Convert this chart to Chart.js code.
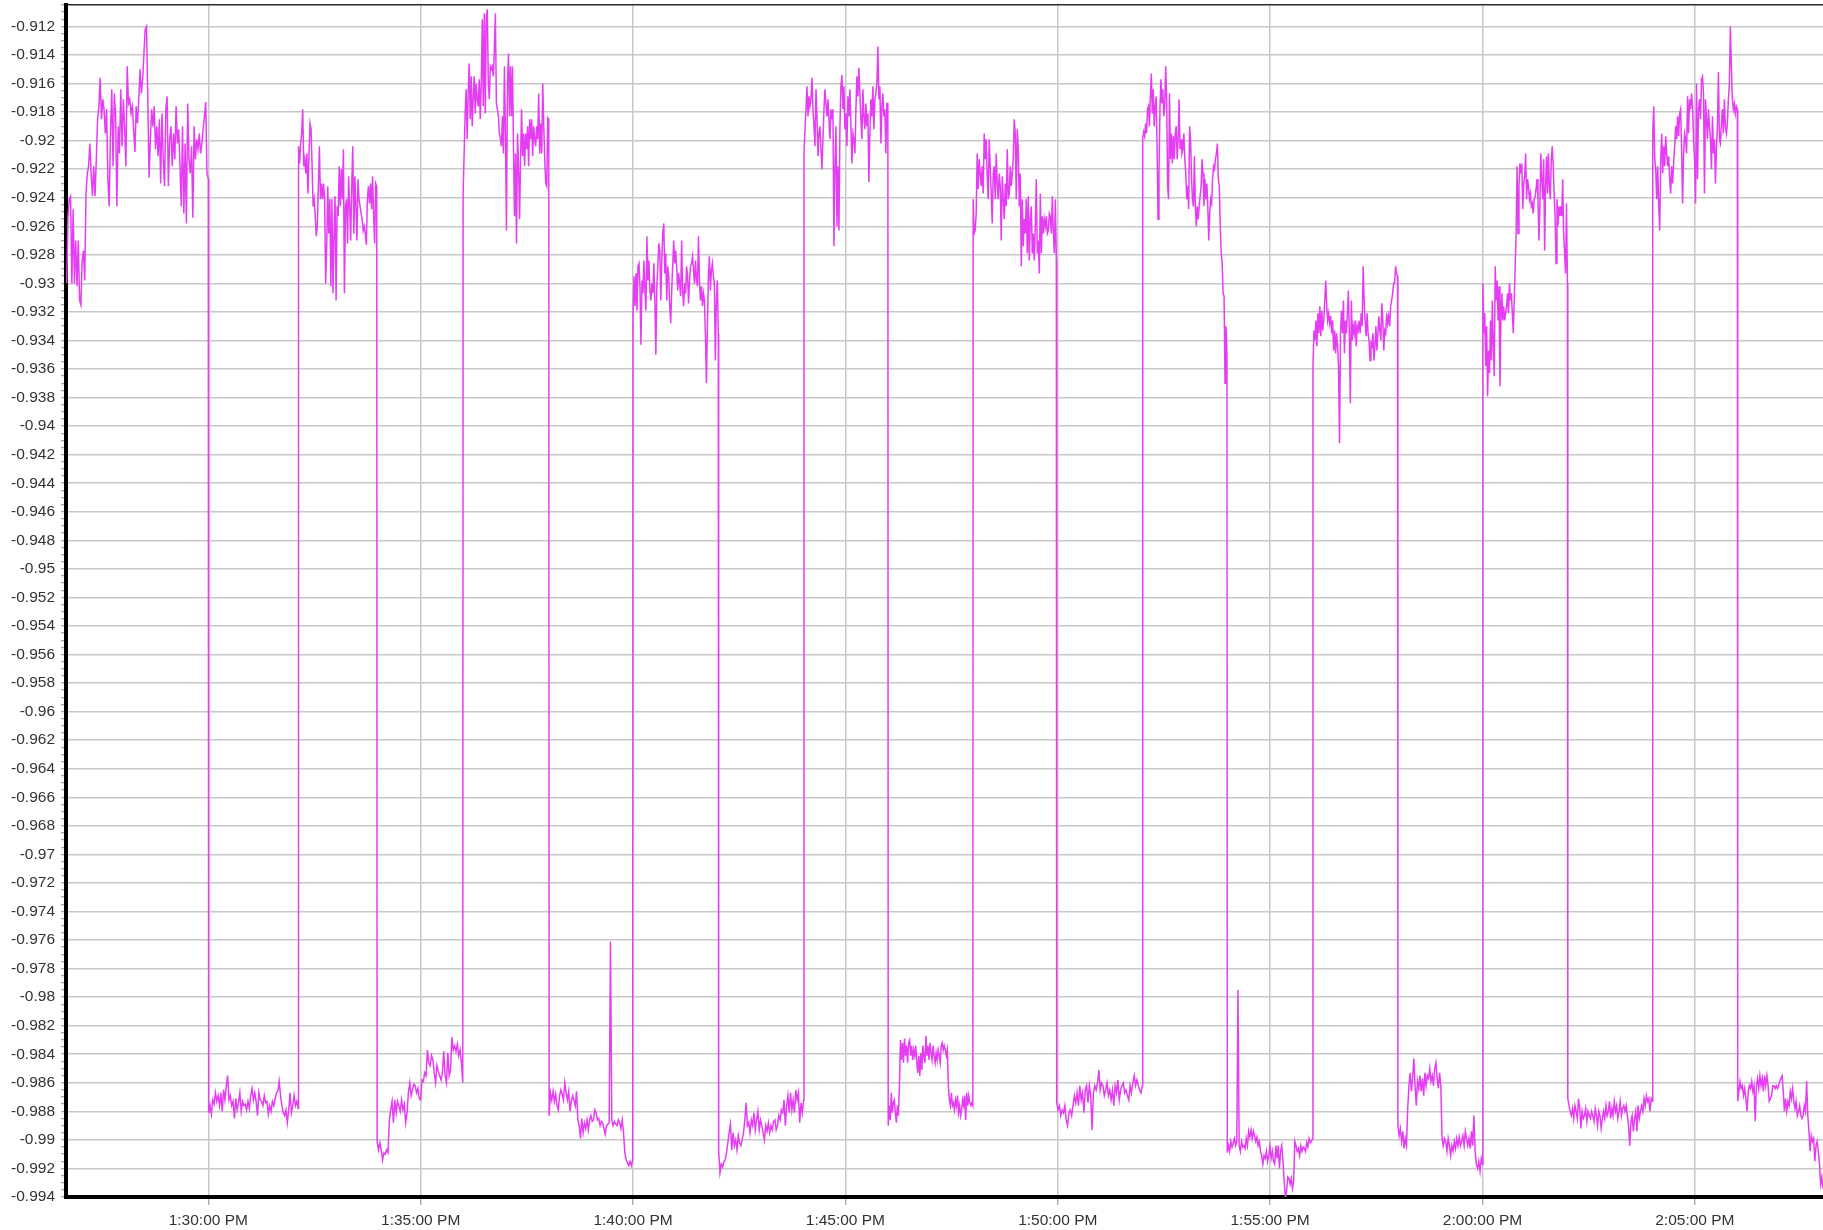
<!DOCTYPE html>
<html>
<head>
<meta charset="utf-8">
<script src="https://cdn.jsdelivr.net/npm/chart.js@4.4.1/dist/chart.umd.min.js"></script>
<style>
  html, body { margin: 0; padding: 0; background: #ffffff; }
  #wrap { width: 1823px; height: 1230px; position: relative; }
  canvas { display: block; }
</style>
</head>
<body>
<div id="wrap"><canvas id="c" width="1823" height="1230"></canvas></div>
<script>
// ---- time axis (seconds after 1:30:00 PM) ----
const xMin = -201;
const xMax = 2281;
const xTickSeconds = [0, 300, 600, 900, 1200, 1500, 1800, 2100];
const xTickLabels = ['1:30:00 PM', '1:35:00 PM', '1:40:00 PM', '1:45:00 PM', '1:50:00 PM', '1:55:00 PM', '2:00:00 PM', '2:05:00 PM'];

// ---- value axis ----
const yMin = -0.994;
const yMax = -0.9105;
const yTickValues = [-0.912,-0.914,-0.916,-0.918,-0.92,-0.922,-0.924,-0.926,-0.928,-0.93,-0.932,-0.934,-0.936,-0.938,-0.94,-0.942,-0.944,-0.946,-0.948,-0.95,-0.952,-0.954,-0.956,-0.958,-0.96,-0.962,-0.964,-0.966,-0.968,-0.97,-0.972,-0.974,-0.976,-0.978,-0.98,-0.982,-0.984,-0.986,-0.988,-0.99,-0.992,-0.994];
const yTickLabels = ['-0.912','-0.914','-0.916','-0.918','-0.92','-0.922','-0.924','-0.926','-0.928','-0.93','-0.932','-0.934','-0.936','-0.938','-0.94','-0.942','-0.944','-0.946','-0.948','-0.95','-0.952','-0.954','-0.956','-0.958','-0.96','-0.962','-0.964','-0.966','-0.968','-0.97','-0.972','-0.974','-0.976','-0.978','-0.98','-0.982','-0.984','-0.986','-0.988','-0.99','-0.992','-0.994'];

// ---- segments: start / end time (s) and readings, evenly sampled within each segment ----
const segStart = [-200, 0.5, 127.5, 238.5, 360, 481.5, 600, 721, 841.5, 960.5, 1080.5, 1198.5, 1320, 1439.5, 1560.5, 1680.5, 1800.5, 1920.5, 2040.5, 2160.5];
const segEnd   = [0, 127, 238, 359.5, 481, 599.5, 720.5, 841, 960, 1080, 1198, 1319.5, 1439, 1560, 1680, 1800, 1920, 2040, 2160, 2281];

const seg01 = [-0.9300,-0.9253,-0.9241,-0.9239,-0.9300,-0.9248,-0.9300,-0.9270,-0.9302,-0.9270,-0.9312,-0.9315,-0.9284,-0.9277,-0.9298,-0.9237,-0.9223,-0.9218,-0.9202,-0.9223,-0.9239,-0.9218,-0.9239,-0.9213,-0.9185,-0.9176,-0.9156,-0.9185,-0.9171,-0.9178,-0.9195,-0.9178,-0.9227,-0.9246,-0.9195,-0.9164,-0.9218,-0.9167,-0.9183,-0.9246,-0.9190,-0.9209,-0.9164,-0.9204,-0.9171,-0.9190,-0.9218,-0.9148,-0.9174,-0.9171,-0.9181,-0.9176,-0.9192,-0.9208,-0.9176,-0.9188,-0.9171,-0.9150,-0.9167,-0.9157,-0.9139,-0.9122,-0.9120,-0.9171,-0.9226,-0.9199,-0.9178,-0.9190,-0.9176,-0.9206,-0.9190,-0.9211,-0.9185,-0.9230,-0.9181,-0.9213,-0.9232,-0.9178,-0.9169,-0.9232,-0.9199,-0.9190,-0.9218,-0.9195,-0.9213,-0.9176,-0.9202,-0.9192,-0.9218,-0.9246,-0.9190,-0.9251,-0.9202,-0.9258,-0.9174,-0.9213,-0.9223,-0.9204,-0.9254,-0.9190,-0.9213,-0.9199,-0.9206,-0.9195,-0.9209,-0.9202,-0.9192,-0.9183,-0.9173,-0.9223,-0.9227];
const seg02 = [-0.9881,-0.9876,-0.9882,-0.9872,-0.9875,-0.9867,-0.9873,-0.9869,-0.9876,-0.9867,-0.9880,-0.9865,-0.9872,-0.9862,-0.9855,-0.9872,-0.9869,-0.9876,-0.9873,-0.9885,-0.9871,-0.9879,-0.9874,-0.9867,-0.9880,-0.9873,-0.9876,-0.9875,-0.9879,-0.9873,-0.9878,-0.9869,-0.9864,-0.9872,-0.9867,-0.9873,-0.9883,-0.9867,-0.9872,-0.9873,-0.9876,-0.9869,-0.9874,-0.9873,-0.9882,-0.9876,-0.9880,-0.9873,-0.9876,-0.9871,-0.9867,-0.9866,-0.9859,-0.9869,-0.9876,-0.9881,-0.9883,-0.9879,-0.9888,-0.9879,-0.9867,-0.9881,-0.9876,-0.9869,-0.9876,-0.9873,-0.9878];
const seg03 = [-0.9204,-0.9216,-0.9202,-0.9195,-0.9178,-0.9218,-0.9213,-0.9223,-0.9209,-0.9237,-0.9211,-0.9188,-0.9192,-0.9218,-0.9246,-0.9241,-0.9253,-0.9267,-0.9260,-0.9232,-0.9204,-0.9241,-0.9230,-0.9241,-0.9230,-0.9241,-0.9300,-0.9274,-0.9232,-0.9265,-0.9241,-0.9302,-0.9241,-0.9307,-0.9265,-0.9239,-0.9312,-0.9246,-0.9253,-0.9218,-0.9246,-0.9220,-0.9241,-0.9206,-0.9307,-0.9246,-0.9241,-0.9272,-0.9225,-0.9246,-0.9270,-0.9232,-0.9204,-0.9265,-0.9225,-0.9246,-0.9270,-0.9227,-0.9241,-0.9246,-0.9251,-0.9255,-0.9263,-0.9260,-0.9265,-0.9273,-0.9241,-0.9232,-0.9244,-0.9230,-0.9248,-0.9225,-0.9253,-0.9272,-0.9230,-0.9232];
const seg04 = [-0.9901,-0.9907,-0.9902,-0.9907,-0.9914,-0.9909,-0.9910,-0.9907,-0.9909,-0.9886,-0.9879,-0.9873,-0.9888,-0.9872,-0.9881,-0.9873,-0.9876,-0.9880,-0.9872,-0.9879,-0.9875,-0.9888,-0.9881,-0.9867,-0.9860,-0.9869,-0.9865,-0.9861,-0.9862,-0.9867,-0.9864,-0.9871,-0.9872,-0.9858,-0.9859,-0.9853,-0.9855,-0.9837,-0.9846,-0.9848,-0.9841,-0.9844,-0.9853,-0.9860,-0.9848,-0.9852,-0.9855,-0.9858,-0.9853,-0.9838,-0.9855,-0.9860,-0.9839,-0.9855,-0.9851,-0.9828,-0.9837,-0.9834,-0.9838,-0.9833,-0.9841,-0.9837,-0.9846,-0.9860];
const seg05 = [-0.9237,-0.9209,-0.9181,-0.9164,-0.9199,-0.9167,-0.9146,-0.9185,-0.9155,-0.9190,-0.9169,-0.9155,-0.9181,-0.9160,-0.9171,-0.9176,-0.9157,-0.9185,-0.9160,-0.9115,-0.9176,-0.9111,-0.9181,-0.9113,-0.9108,-0.9160,-0.9171,-0.9148,-0.9150,-0.9148,-0.9155,-0.9136,-0.9111,-0.9174,-0.9178,-0.9183,-0.9195,-0.9199,-0.9204,-0.9183,-0.9209,-0.9148,-0.9195,-0.9263,-0.9160,-0.9139,-0.9183,-0.9148,-0.9183,-0.9148,-0.9206,-0.9253,-0.9209,-0.9272,-0.9195,-0.9218,-0.9255,-0.9213,-0.9178,-0.9211,-0.9195,-0.9218,-0.9195,-0.9206,-0.9190,-0.9218,-0.9185,-0.9199,-0.9185,-0.9211,-0.9190,-0.9199,-0.9204,-0.9190,-0.9199,-0.9167,-0.9209,-0.9188,-0.9209,-0.9160,-0.9190,-0.9213,-0.9230,-0.9232,-0.9184,-0.9185];
const seg06 = [-0.9883,-0.9867,-0.9872,-0.9866,-0.9873,-0.9868,-0.9876,-0.9879,-0.9869,-0.9865,-0.9868,-0.9872,-0.9860,-0.9867,-0.9872,-0.9866,-0.9880,-0.9873,-0.9869,-0.9872,-0.9876,-0.9866,-0.9886,-0.9890,-0.9899,-0.9885,-0.9895,-0.9888,-0.9892,-0.9886,-0.9893,-0.9886,-0.9883,-0.9887,-0.9886,-0.9879,-0.9881,-0.9886,-0.9885,-0.9890,-0.9887,-0.9888,-0.9892,-0.9896,-0.9890,-0.9889,-0.9888,-0.9761,-0.9886,-0.9890,-0.9887,-0.9889,-0.9890,-0.9886,-0.9888,-0.9892,-0.9886,-0.9895,-0.9909,-0.9914,-0.9916,-0.9918,-0.9915,-0.9918,-0.9914];
const seg07 = [-0.9321,-0.9295,-0.9316,-0.9293,-0.9319,-0.9288,-0.9286,-0.9302,-0.9343,-0.9298,-0.9307,-0.9284,-0.9305,-0.9319,-0.9267,-0.9298,-0.9284,-0.9305,-0.9312,-0.9300,-0.9307,-0.9286,-0.9312,-0.9350,-0.9302,-0.9288,-0.9272,-0.9277,-0.9312,-0.9284,-0.9265,-0.9258,-0.9293,-0.9279,-0.9312,-0.9288,-0.9295,-0.9316,-0.9328,-0.9305,-0.9288,-0.9270,-0.9286,-0.9277,-0.9288,-0.9305,-0.9293,-0.9300,-0.9309,-0.9270,-0.9305,-0.9316,-0.9300,-0.9307,-0.9288,-0.9295,-0.9314,-0.9298,-0.9288,-0.9286,-0.9281,-0.9291,-0.9300,-0.9284,-0.9298,-0.9302,-0.9267,-0.9298,-0.9312,-0.9302,-0.9316,-0.9307,-0.9312,-0.9337,-0.9370,-0.9330,-0.9295,-0.9281,-0.9305,-0.9291,-0.9286,-0.9295,-0.9300,-0.9354,-0.9312,-0.9298,-0.9335];
const seg08 = [-0.9908,-0.9923,-0.9917,-0.9919,-0.9915,-0.9914,-0.9909,-0.9902,-0.9895,-0.9889,-0.9907,-0.9895,-0.9904,-0.9900,-0.9907,-0.9897,-0.9902,-0.9904,-0.9900,-0.9895,-0.9886,-0.9874,-0.9890,-0.9888,-0.9895,-0.9886,-0.9890,-0.9881,-0.9893,-0.9886,-0.9880,-0.9893,-0.9886,-0.9890,-0.9895,-0.9900,-0.9890,-0.9894,-0.9888,-0.9895,-0.9890,-0.9893,-0.9887,-0.9886,-0.9893,-0.9890,-0.9883,-0.9886,-0.9879,-0.9881,-0.9872,-0.9890,-0.9876,-0.9869,-0.9881,-0.9867,-0.9879,-0.9872,-0.9881,-0.9865,-0.9872,-0.9867,-0.9888,-0.9874,-0.9881,-0.9872];
const seg09 = [-0.9209,-0.9192,-0.9178,-0.9162,-0.9183,-0.9169,-0.9176,-0.9171,-0.9156,-0.9178,-0.9190,-0.9204,-0.9164,-0.9183,-0.9211,-0.9195,-0.9190,-0.9206,-0.9220,-0.9199,-0.9178,-0.9164,-0.9174,-0.9183,-0.9171,-0.9185,-0.9199,-0.9178,-0.9185,-0.9178,-0.9274,-0.9218,-0.9190,-0.9260,-0.9218,-0.9263,-0.9190,-0.9162,-0.9154,-0.9178,-0.9162,-0.9192,-0.9181,-0.9204,-0.9169,-0.9183,-0.9164,-0.9190,-0.9216,-0.9195,-0.9199,-0.9209,-0.9178,-0.9155,-0.9169,-0.9149,-0.9167,-0.9185,-0.9199,-0.9164,-0.9183,-0.9192,-0.9174,-0.9190,-0.9181,-0.9229,-0.9195,-0.9171,-0.9183,-0.9162,-0.9192,-0.9171,-0.9167,-0.9160,-0.9134,-0.9171,-0.9162,-0.9202,-0.9176,-0.9167,-0.9183,-0.9178,-0.9209,-0.9174,-0.9174];
const seg10 = [-0.9890,-0.9876,-0.9886,-0.9867,-0.9881,-0.9874,-0.9872,-0.9881,-0.9888,-0.9876,-0.9883,-0.9862,-0.9830,-0.9844,-0.9832,-0.9846,-0.9829,-0.9841,-0.9834,-0.9846,-0.9832,-0.9830,-0.9841,-0.9834,-0.9844,-0.9837,-0.9841,-0.9834,-0.9846,-0.9853,-0.9841,-0.9855,-0.9839,-0.9851,-0.9834,-0.9841,-0.9846,-0.9827,-0.9841,-0.9834,-0.9844,-0.9832,-0.9839,-0.9844,-0.9834,-0.9841,-0.9846,-0.9839,-0.9844,-0.9837,-0.9841,-0.9846,-0.9834,-0.9832,-0.9837,-0.9834,-0.9837,-0.9841,-0.9837,-0.9862,-0.9872,-0.9876,-0.9867,-0.9876,-0.9874,-0.9879,-0.9872,-0.9876,-0.9869,-0.9881,-0.9876,-0.9883,-0.9879,-0.9872,-0.9876,-0.9869,-0.9886,-0.9867,-0.9876,-0.9869,-0.9874,-0.9876,-0.9874,-0.9876];
const seg11 = [-0.9241,-0.9265,-0.9263,-0.9251,-0.9209,-0.9234,-0.9213,-0.9223,-0.9232,-0.9218,-0.9237,-0.9195,-0.9213,-0.9199,-0.9225,-0.9241,-0.9199,-0.9218,-0.9237,-0.9258,-0.9223,-0.9218,-0.9241,-0.9209,-0.9230,-0.9241,-0.9223,-0.9232,-0.9270,-0.9225,-0.9241,-0.9255,-0.9230,-0.9246,-0.9206,-0.9241,-0.9237,-0.9218,-0.9232,-0.9223,-0.9213,-0.9185,-0.9195,-0.9241,-0.9192,-0.9206,-0.9246,-0.9223,-0.9288,-0.9241,-0.9274,-0.9255,-0.9265,-0.9241,-0.9279,-0.9239,-0.9284,-0.9255,-0.9246,-0.9279,-0.9265,-0.9284,-0.9260,-0.9227,-0.9279,-0.9270,-0.9293,-0.9237,-0.9279,-0.9253,-0.9265,-0.9255,-0.9260,-0.9253,-0.9265,-0.9263,-0.9251,-0.9253,-0.9265,-0.9239,-0.9265,-0.9279,-0.9241,-0.9284];
const seg12 = [-0.9874,-0.9879,-0.9876,-0.9883,-0.9879,-0.9881,-0.9876,-0.9886,-0.9890,-0.9881,-0.9879,-0.9883,-0.9876,-0.9869,-0.9874,-0.9867,-0.9876,-0.9862,-0.9872,-0.9867,-0.9881,-0.9865,-0.9862,-0.9874,-0.9862,-0.9869,-0.9893,-0.9867,-0.9862,-0.9865,-0.9860,-0.9851,-0.9865,-0.9860,-0.9862,-0.9869,-0.9865,-0.9860,-0.9869,-0.9865,-0.9872,-0.9865,-0.9876,-0.9862,-0.9867,-0.9858,-0.9872,-0.9865,-0.9862,-0.9860,-0.9867,-0.9865,-0.9869,-0.9872,-0.9862,-0.9867,-0.9860,-0.9855,-0.9862,-0.9858,-0.9862,-0.9865,-0.9867,-0.9862];
const seg13 = [-0.9199,-0.9194,-0.9197,-0.9188,-0.9195,-0.9178,-0.9176,-0.9190,-0.9169,-0.9153,-0.9181,-0.9164,-0.9190,-0.9176,-0.9169,-0.9204,-0.9255,-0.9223,-0.9178,-0.9157,-0.9174,-0.9164,-0.9183,-0.9176,-0.9148,-0.9171,-0.9232,-0.9241,-0.9167,-0.9213,-0.9195,-0.9216,-0.9197,-0.9213,-0.9195,-0.9190,-0.9213,-0.9199,-0.9171,-0.9206,-0.9199,-0.9209,-0.9206,-0.9195,-0.9213,-0.9223,-0.9241,-0.9232,-0.9248,-0.9190,-0.9199,-0.9227,-0.9241,-0.9246,-0.9211,-0.9246,-0.9260,-0.9246,-0.9255,-0.9246,-0.9239,-0.9232,-0.9213,-0.9223,-0.9246,-0.9227,-0.9241,-0.9230,-0.9246,-0.9270,-0.9251,-0.9241,-0.9244,-0.9227,-0.9218,-0.9220,-0.9213,-0.9209,-0.9202,-0.9227,-0.9232,-0.9260,-0.9279,-0.9286,-0.9307,-0.9309,-0.9370,-0.9330,-0.9349];
const seg14 = [-0.9909,-0.9904,-0.9908,-0.9901,-0.9905,-0.9902,-0.9899,-0.9904,-0.9901,-0.9795,-0.9904,-0.9908,-0.9901,-0.9905,-0.9904,-0.9906,-0.9899,-0.9904,-0.9894,-0.9898,-0.9893,-0.9899,-0.9894,-0.9897,-0.9901,-0.9898,-0.9904,-0.9901,-0.9908,-0.9911,-0.9917,-0.9911,-0.9913,-0.9908,-0.9915,-0.9911,-0.9904,-0.9913,-0.9908,-0.9915,-0.9917,-0.9904,-0.9913,-0.9904,-0.9920,-0.9908,-0.9904,-0.9915,-0.9929,-0.9940,-0.9936,-0.9926,-0.9927,-0.9931,-0.9927,-0.9934,-0.9929,-0.9901,-0.9904,-0.9908,-0.9906,-0.9911,-0.9904,-0.9908,-0.9905,-0.9906,-0.9908,-0.9902,-0.9905,-0.9899,-0.9902,-0.9901,-0.9899];
const seg15 = [-0.9358,-0.9333,-0.9340,-0.9326,-0.9344,-0.9321,-0.9335,-0.9316,-0.9337,-0.9319,-0.9333,-0.9326,-0.9312,-0.9298,-0.9316,-0.9326,-0.9321,-0.9328,-0.9323,-0.9335,-0.9326,-0.9347,-0.9333,-0.9349,-0.9335,-0.9344,-0.9358,-0.9412,-0.9335,-0.9319,-0.9335,-0.9312,-0.9349,-0.9326,-0.9335,-0.9321,-0.9305,-0.9335,-0.9384,-0.9312,-0.9340,-0.9330,-0.9335,-0.9326,-0.9344,-0.9330,-0.9333,-0.9326,-0.9335,-0.9321,-0.9330,-0.9288,-0.9312,-0.9326,-0.9337,-0.9321,-0.9335,-0.9340,-0.9354,-0.9342,-0.9344,-0.9335,-0.9354,-0.9344,-0.9330,-0.9347,-0.9335,-0.9323,-0.9333,-0.9340,-0.9314,-0.9326,-0.9347,-0.9333,-0.9335,-0.9321,-0.9328,-0.9323,-0.9330,-0.9316,-0.9312,-0.9307,-0.9300,-0.9300,-0.9288,-0.9293,-0.9295];
const seg16 = [-0.9890,-0.9897,-0.9892,-0.9901,-0.9894,-0.9906,-0.9899,-0.9904,-0.9878,-0.9862,-0.9853,-0.9866,-0.9857,-0.9843,-0.9862,-0.9876,-0.9859,-0.9864,-0.9855,-0.9866,-0.9857,-0.9869,-0.9853,-0.9862,-0.9855,-0.9857,-0.9850,-0.9859,-0.9855,-0.9862,-0.9850,-0.9846,-0.9857,-0.9864,-0.9853,-0.9862,-0.9899,-0.9904,-0.9899,-0.9901,-0.9908,-0.9899,-0.9904,-0.9911,-0.9904,-0.9908,-0.9901,-0.9906,-0.9899,-0.9904,-0.9898,-0.9904,-0.9901,-0.9897,-0.9904,-0.9894,-0.9899,-0.9904,-0.9899,-0.9906,-0.9894,-0.9904,-0.9883,-0.9908,-0.9917,-0.9920,-0.9915,-0.9922,-0.9913,-0.9917];
const seg17 = [-0.9300,-0.9335,-0.9321,-0.9358,-0.9330,-0.9379,-0.9347,-0.9363,-0.9326,-0.9354,-0.9312,-0.9344,-0.9365,-0.9288,-0.9312,-0.9298,-0.9326,-0.9302,-0.9372,-0.9326,-0.9307,-0.9326,-0.9316,-0.9326,-0.9321,-0.9316,-0.9307,-0.9321,-0.9300,-0.9312,-0.9307,-0.9321,-0.9335,-0.9312,-0.9288,-0.9265,-0.9218,-0.9265,-0.9232,-0.9216,-0.9223,-0.9216,-0.9248,-0.9230,-0.9225,-0.9209,-0.9241,-0.9227,-0.9232,-0.9241,-0.9237,-0.9246,-0.9244,-0.9251,-0.9241,-0.9239,-0.9234,-0.9227,-0.9241,-0.9270,-0.9246,-0.9209,-0.9227,-0.9241,-0.9213,-0.9277,-0.9232,-0.9211,-0.9237,-0.9209,-0.9232,-0.9241,-0.9213,-0.9204,-0.9218,-0.9237,-0.9253,-0.9286,-0.9241,-0.9260,-0.9246,-0.9253,-0.9246,-0.9253,-0.9227,-0.9265,-0.9279,-0.9293,-0.9244,-0.9300];
const seg18 = [-0.9871,-0.9876,-0.9880,-0.9883,-0.9878,-0.9885,-0.9876,-0.9880,-0.9885,-0.9871,-0.9878,-0.9892,-0.9880,-0.9885,-0.9883,-0.9878,-0.9887,-0.9880,-0.9883,-0.9885,-0.9880,-0.9883,-0.9887,-0.9878,-0.9883,-0.9890,-0.9880,-0.9883,-0.9892,-0.9885,-0.9880,-0.9885,-0.9876,-0.9883,-0.9880,-0.9873,-0.9885,-0.9878,-0.9883,-0.9873,-0.9880,-0.9876,-0.9885,-0.9880,-0.9873,-0.9883,-0.9878,-0.9876,-0.9880,-0.9876,-0.9883,-0.9890,-0.9904,-0.9887,-0.9883,-0.9894,-0.9885,-0.9880,-0.9894,-0.9876,-0.9885,-0.9880,-0.9876,-0.9880,-0.9871,-0.9876,-0.9869,-0.9873,-0.9871,-0.9880,-0.9871,-0.9873];
const seg19 = [-0.9194,-0.9176,-0.9213,-0.9220,-0.9241,-0.9218,-0.9246,-0.9263,-0.9213,-0.9195,-0.9223,-0.9204,-0.9218,-0.9197,-0.9209,-0.9218,-0.9211,-0.9227,-0.9237,-0.9218,-0.9230,-0.9216,-0.9204,-0.9190,-0.9199,-0.9183,-0.9197,-0.9181,-0.9178,-0.9206,-0.9244,-0.9209,-0.9195,-0.9199,-0.9209,-0.9169,-0.9195,-0.9171,-0.9178,-0.9167,-0.9176,-0.9199,-0.9213,-0.9244,-0.9160,-0.9227,-0.9178,-0.9171,-0.9185,-0.9157,-0.9155,-0.9167,-0.9237,-0.9171,-0.9185,-0.9199,-0.9178,-0.9190,-0.9199,-0.9220,-0.9183,-0.9209,-0.9199,-0.9230,-0.9204,-0.9190,-0.9152,-0.9199,-0.9202,-0.9188,-0.9178,-0.9195,-0.9171,-0.9190,-0.9195,-0.9188,-0.9171,-0.9160,-0.9120,-0.9148,-0.9171,-0.9178,-0.9174,-0.9181,-0.9176,-0.9178];
const seg20 = [-0.9873,-0.9866,-0.9859,-0.9864,-0.9862,-0.9869,-0.9864,-0.9871,-0.9880,-0.9866,-0.9862,-0.9864,-0.9859,-0.9866,-0.9862,-0.9887,-0.9862,-0.9857,-0.9864,-0.9855,-0.9862,-0.9857,-0.9866,-0.9855,-0.9862,-0.9855,-0.9862,-0.9873,-0.9871,-0.9869,-0.9862,-0.9862,-0.9864,-0.9862,-0.9864,-0.9862,-0.9859,-0.9857,-0.9855,-0.9866,-0.9880,-0.9871,-0.9880,-0.9873,-0.9876,-0.9866,-0.9871,-0.9864,-0.9873,-0.9878,-0.9873,-0.9883,-0.9880,-0.9876,-0.9883,-0.9885,-0.9883,-0.9876,-0.9880,-0.9859,-0.9883,-0.9894,-0.9908,-0.9897,-0.9901,-0.9899,-0.9915,-0.9904,-0.9901,-0.9908,-0.9917,-0.9931,-0.9926,-0.9934];

const segValues = [seg01, seg02, seg03, seg04, seg05, seg06, seg07, seg08, seg09, seg10, seg11, seg12, seg13, seg14, seg15, seg16, seg17, seg18, seg19, seg20];

// build points: each reading sits at its sample time within its segment
const points = [];
segValues.forEach((vals, s) => {
  const n = vals.length;
  const dt = (segEnd[s] - segStart[s]) / (n - 1);
  vals.forEach((v, i) => points.push({ x: segStart[s] + i * dt, y: v }));
});

const FONT = "'Liberation Sans', Arial, Helvetica, sans-serif";
const isMajor = (v) => yTickValues.some(t => Math.abs(t - v) < 1e-7);
const labelFor = (v) => {
  const i = yTickValues.findIndex(t => Math.abs(t - v) < 1e-7);
  return i >= 0 ? yTickLabels[i] : '';
};

new Chart(document.getElementById('c'), {
  type: 'line',
  data: {
    datasets: [{
      data: points,
      borderColor: '#e53ef2',
      borderWidth: 1.5,
      pointRadius: 0,
      tension: 0,
      fill: false
    }]
  },
  options: {
    responsive: false,
    devicePixelRatio: 1,
    animation: false,
    events: [],
    layout: { padding: 0 },
    plugins: { legend: { display: false }, tooltip: { enabled: false } },
    scales: {
      x: {
        type: 'linear',
        position: 'bottom',
        min: xMin,
        max: xMax,
        afterBuildTicks: (scale) => { scale.ticks = xTickSeconds.map(v => ({ value: v })); },
        afterFit: (scale) => { scale.height = 33; scale.paddingLeft = 0; scale.paddingRight = 0; },
        ticks: {
          autoSkip: false,
          maxRotation: 0,
          padding: 6,
          color: '#333333',
          font: { family: FONT, size: 15.5 },
          callback: (v) => { const i = xTickSeconds.indexOf(v); return i >= 0 ? xTickLabels[i] : ''; }
        },
        grid: { color: '#c8c8c8', lineWidth: 1.5, tickLength: 8, tickColor: '#9a9a9a', tickWidth: 1.2 },
        border: { display: true, color: '#000000', width: 4 }
      },
      xTop: {
        type: 'linear',
        position: 'top',
        min: xMin,
        max: xMax,
        afterFit: (scale) => { scale.height = 5; scale.paddingLeft = 0; scale.paddingRight = 0; },
        ticks: { display: false },
        grid: { display: false, drawTicks: false },
        border: { display: true, color: '#2b2b2b', width: 1.5 }
      },
      y: {
        type: 'linear',
        position: 'left',
        min: yMin,
        max: yMax,
        afterBuildTicks: (scale) => {
          const t = [];
          for (let i = 0; i * 0.0005 <= (yMax - yMin) + 1e-9; i++) {
            t.push({ value: Math.round((yMin + i * 0.0005) * 10000) / 10000 });
          }
          scale.ticks = t;
        },
        afterFit: (scale) => { scale.width = 66; scale.paddingTop = 0; scale.paddingBottom = 0; },
        ticks: {
          autoSkip: false,
          padding: 6,
          color: '#333333',
          font: { family: FONT, size: 15.5 },
          callback: (v) => labelFor(v)
        },
        grid: {
          color: (ctx) => (ctx.tick && isMajor(ctx.tick.value)) ? '#c8c8c8' : 'rgba(0,0,0,0)',
          lineWidth: 1.5,
          tickLength: 5,
          tickWidth: 1,
          tickColor: '#8a8a8a'
        },
        border: { display: true, color: '#000000', width: 4 }
      }
    }
  }
});
</script>
</body>
</html>
